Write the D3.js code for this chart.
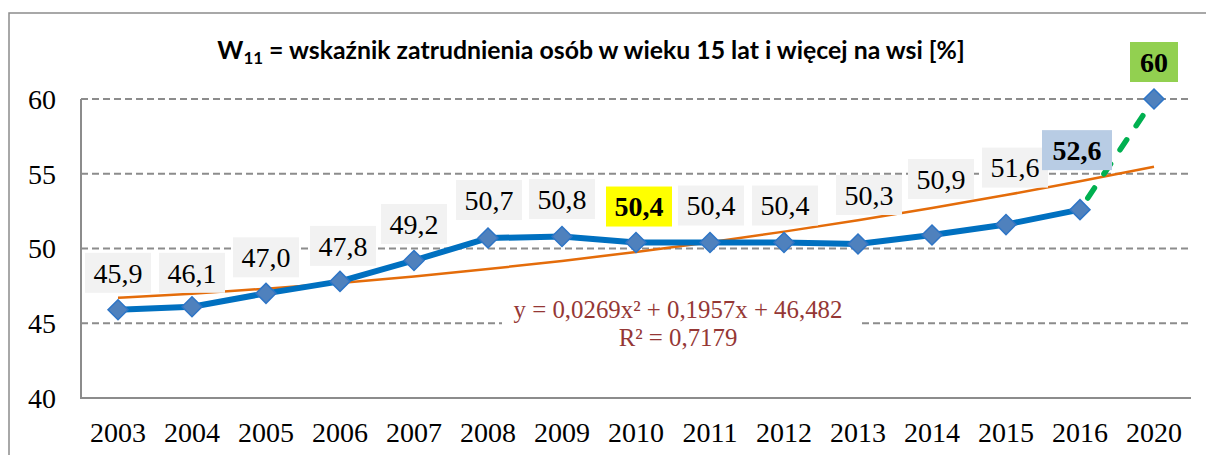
<!DOCTYPE html>
<html><head><meta charset="utf-8">
<script src="https://cdn.jsdelivr.net/npm/d3@7"></script>
<style>html,body{margin:0;padding:0;background:#fff;overflow:hidden}</style>
</head><body>
<svg id="c" width="1206" height="455"></svg>
<script>
// ---- data ----
const categories = ["2003","2004","2005","2006","2007","2008","2009","2010","2011","2012","2013","2014","2015","2016","2020"];
const mainValues = [45.9,46.1,47.0,47.8,49.2,50.7,50.8,50.4,50.4,50.4,50.3,50.9,51.6,52.6];
const forecastYears = ["2016","2020"];
const forecastValues = [52.6,60];
const yTicks = [40,45,50,55,60];
const trendCoef = [0.0269,0.1957,46.482]; // a, b, c as in displayed equation
const trendText = ["y = 0,0269x² + 0,1957x + 46,482","R² = 0,7179"];
const titleMain = "W";
const titleSub = "11";
const titleRest = " = wskaźnik zatrudnienia osób w wieku 15 lat i więcej na wsi [%]";

// ---- layout (not data) ----
const labelDx = [0,0,0,3,0,1,0,3,1,1,11,9,9,-3,0];
const labelDy = [-37,-34,-36,-35.5,-36.5,-38,-37.5,-36,-37,-37,-49,-56,-57,-59.5,-37];
const labelFill = {"2010":"#FFFF00","2016":"#B8CCE4","2020":"#92D050"};
const serif = "Liberation Serif";
const fs = 28;

const svg = d3.select("#c");
const x = d3.scalePoint().domain(categories).range([81,1191]).padding(0.5);
const y = d3.scaleLinear().domain([40,60]).range([398,99]);

// frame
svg.append("rect").attr("x",9).attr("y",13).attr("width",1230).attr("height",480)
  .attr("fill","none").attr("stroke","#8c8c8c").attr("stroke-width",1.5);

// gridlines
svg.append("g").selectAll("line").data(yTicks.filter(d=>d>40)).join("line")
  .attr("x1",81).attr("x2",1191).attr("y1",d=>y(d)).attr("y2",d=>y(d))
  .attr("stroke","#8c8c8c").attr("stroke-width",2).attr("stroke-dasharray","7,4");

// axes lines
svg.append("line").attr("x1",81).attr("x2",81).attr("y1",y(60)).attr("y2",y(40)+1)
  .attr("stroke","#8c8c8c").attr("stroke-width",2);
svg.append("line").attr("x1",80).attr("x2",1191).attr("y1",y(40)).attr("y2",y(40))
  .attr("stroke","#8c8c8c").attr("stroke-width",2);

// y tick labels
svg.append("g").selectAll("text").data(yTicks).join("text")
  .attr("x",56).attr("y",d=>y(d)).attr("dy","0.35em").attr("text-anchor","end")
  .attr("font-family",serif).attr("font-size",fs).attr("fill","#000")
  .text(d=>d);

// x tick labels
svg.append("g").selectAll("text").data(categories).join("text")
  .attr("x",d=>x(d)).attr("y",442).attr("text-anchor","middle")
  .attr("font-family",serif).attr("font-size",fs).attr("fill","#000")
  .text(d=>d);

// title
const title = svg.append("text").attr("x",591).attr("y",59).attr("text-anchor","middle")
  .attr("font-family","Lato").attr("font-weight","bold").attr("font-size",22).attr("fill","#000");
title.append("tspan").text(titleMain);
title.append("tspan").attr("font-size",15).attr("dy",5).text(titleSub);
title.append("tspan").attr("dy",-5).text(titleRest);
{
  const w = title.node().getComputedTextLength();
  const s = 748/w;
  title.attr("font-size",22*s);
  title.select("tspan:nth-child(2)").attr("font-size",15*s);
}

// trendline (from displayed equation, x index 1..n)
const trendPts = categories.map((c,i)=>{const t=i+1;return [x(c), y(trendCoef[0]*t*t+trendCoef[1]*t+trendCoef[2])];});
svg.append("path").attr("d",d3.line().curve(d3.curveMonotoneX)(trendPts))
  .attr("fill","none").attr("stroke","#E46C0A").attr("stroke-width",2.5);

// equation label
svg.append("rect").attr("x",502).attr("y",294).attr("width",356).attr("height",58).attr("fill","#fff");
const eq = svg.append("g").selectAll("text").data(trendText).join("text")
  .attr("x",678).attr("y",(d,i)=>i===0?318:346).attr("text-anchor","middle")
  .attr("font-family",serif).attr("font-size",22).attr("fill","#953735")
  .text(d=>d);
{
  const w = eq.nodes()[0].getComputedTextLength();
  eq.attr("font-size",22*329/w);
}

// forecast dashed line
svg.append("path").attr("d",d3.line().x(d=>x(d[0])).y(d=>y(d[1]))(forecastYears.map((c,i)=>[c,forecastValues[i]])))
  .attr("fill","none").attr("stroke","#00B050").attr("stroke-width",5.5)
  .attr("stroke-linecap","round").attr("stroke-dasharray","12,17").attr("stroke-dashoffset",-14);

// main line
svg.append("path").attr("d",d3.line().x((d,i)=>x(categories[i])).y(d=>y(d))(mainValues))
  .attr("fill","none").attr("stroke","#0070C0").attr("stroke-width",6).attr("stroke-linejoin","round");

// markers
const allVals = mainValues.concat([forecastValues[1]]);
const diamond = "M0,-10L10,0L0,10L-10,0Z";
svg.append("g").selectAll("path").data(allVals).join("path")
  .attr("transform",(d,i)=>`translate(${x(categories[i])},${y(d)})`)
  .attr("d",diamond).attr("fill","#4F81BD").attr("stroke","#2E75C6").attr("stroke-width",1.5);

// data labels
const fmt1 = v => d3.format(".1f")(v).replace(".",",");
const lg = svg.append("g");
allVals.forEach((v,i)=>{
  const c = categories[i];
  const cx = x(c)+labelDx[i], cy = y(v)+labelDy[i];
  const bold = !!labelFill[c];
  const t = c==="2020" ? d3.format("d")(v) : fmt1(v);
  const w = c==="2020" ? 48 : (bold && c==="2016" ? 70 : 66);
  lg.append("rect").attr("x",cx-w/2).attr("y",cy-20).attr("width",w).attr("height",40)
    .attr("fill",labelFill[c]||"#F2F2F2");
  lg.append("text").attr("x",cx).attr("y",cy).attr("dy","0.35em").attr("text-anchor","middle")
    .attr("font-family",serif).attr("font-size",fs)
    .attr("font-weight",bold?"bold":"normal").attr("fill","#000").text(t);
});
</script>
</body></html>
